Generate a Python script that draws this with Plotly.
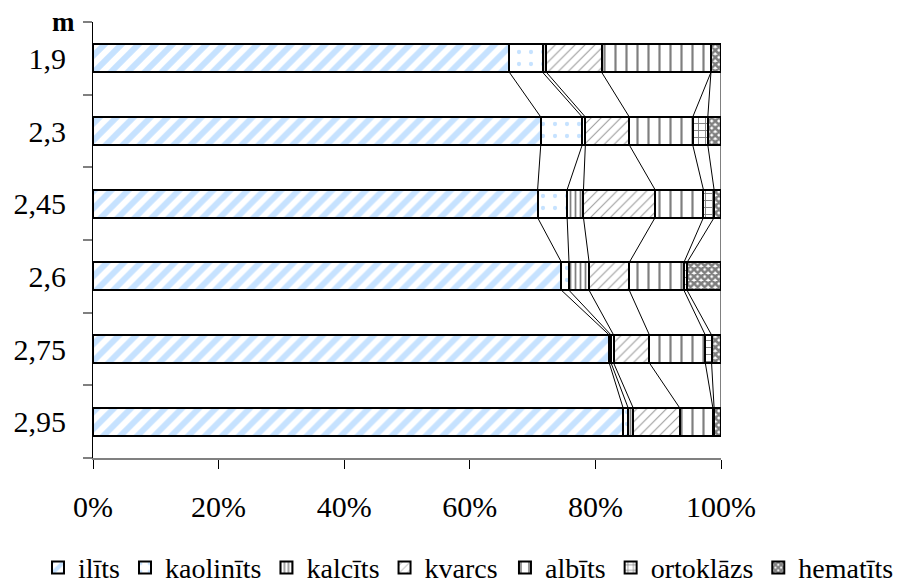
import plotly.graph_objects as go

depths = ["1,9", "2,3", "2,45", "2,6", "2,75", "2,95"]
minerals = ["ilīts", "kaolinīts", "kalcīts", "kvarcs", "albīts", "ortoklāzs", "hematīts"]

ilits = [66.3, 71.3, 70.8, 74.6, 82.2, 84.4]
kaolinits = [5.3, 6.6, 4.7, 1.2, 0.3, 0.8]
kalcits = [0.6, 0.5, 2.6, 3.2, 0.4, 0.8]
kvarcs = [8.8, 7.0, 11.4, 6.4, 5.7, 7.4]
albits = [17.4, 10.1, 7.7, 8.7, 8.9, 5.3]
ortoklazs = [0.0, 2.4, 1.7, 0.5, 1.0, 0.2]
hematits = [1.6, 2.1, 1.1, 5.4, 1.5, 1.1]

series = [ilits, kaolinits, kalcits, kvarcs, albits, ortoklazs, hematits]

patterns = [
    dict(shape="/", fgcolor="#8EC6FF", bgcolor="white", size=12, solidity=0.5),
    dict(shape=".", fgcolor="#8EC6FF", bgcolor="white", size=12, solidity=0.1),
    dict(shape="|", fgcolor="black", bgcolor="white", size=5, solidity=0.35),
    dict(shape="/", fgcolor="#333333", bgcolor="white", size=7, solidity=0.15),
    dict(shape="|", fgcolor="black", bgcolor="white", size=11, solidity=0.2),
    dict(shape="+", fgcolor="black", bgcolor="white", size=7, solidity=0.25),
    dict(shape="x", fgcolor="black", bgcolor="white", size=5, solidity=0.75),
]
legend_ids = ["legend", "legend", "legend", "legend", "legend2", "legend2", "legend2"]

ypos = list(range(len(depths)))
bar_w = 0.385
totals = [sum(s[i] for s in series) for i in range(len(depths))]

fig = go.Figure()

for name, vals, pat, lg in zip(minerals, series, patterns, legend_ids):
    fig.add_trace(go.Bar(
        y=ypos, x=[v / t for v, t in zip(vals, totals)], name=name, orientation="h",
        width=bar_w, legend=lg,
        marker=dict(color="white", pattern=pat, line=dict(color="black", width=2)),
    ))

# series lines connecting cumulative boundaries between adjacent bars
cum = [0.0] * len(depths)
for vals in series:
    cum = [c + v / t for c, v, t in zip(cum, vals, totals)]
    xs, ys = [], []
    for i in range(len(depths) - 1):
        xs += [cum[i], cum[i + 1], None]
        ys += [i + bar_w / 2, i + 1 - bar_w / 2, None]
    fig.add_trace(go.Scatter(x=xs, y=ys, mode="lines", line=dict(color="black", width=1),
                             showlegend=False, hoverinfo="skip"))

legend_common = dict(orientation="h", yanchor="middle", y=-0.252, xanchor="left",
                     font=dict(size=28), itemwidth=30, traceorder="normal",
                     bgcolor="rgba(0,0,0,0)")

fig.update_layout(
    barmode="stack",
    width=895, height=577,
    margin=dict(l=85, r=182, t=14, b=127, autoexpand=False),
    plot_bgcolor="white", paper_bgcolor="white",
    font=dict(family="Liberation Serif, Times New Roman, serif", size=30, color="black"),
    showlegend=True,
    legend=dict(x=-0.0876, **legend_common),
    legend2=dict(x=0.656, **legend_common),
    xaxis=dict(range=[0, 1], tickformat=".0%", dtick=0.2, tick0=0, ticks="outside", ticklen=9,
               tickcolor="black", showline=True, linecolor="#808080", linewidth=2,
               showgrid=False, zeroline=False, tickfont=dict(size=30), ticklabelstandoff=12),
    yaxis=dict(range=[5.5, -0.5], tickvals=ypos, ticktext=depths, ticks="", showline=True,
               linecolor="black", linewidth=1, showgrid=False, zeroline=False,
               tickfont=dict(size=30), ticklabelstandoff=20,
               minor=dict(tick0=-0.5, dtick=1, ticks="outside", ticklen=9, tickcolor="#808080",
                          tickwidth=2, showgrid=False)),
    annotations=[dict(text="<b>m</b>", xref="paper", yref="paper", x=-0.025, y=1.0,
                      xanchor="right", yanchor="middle", showarrow=False, font=dict(size=27))],
)

fig.write_html("out.html")
